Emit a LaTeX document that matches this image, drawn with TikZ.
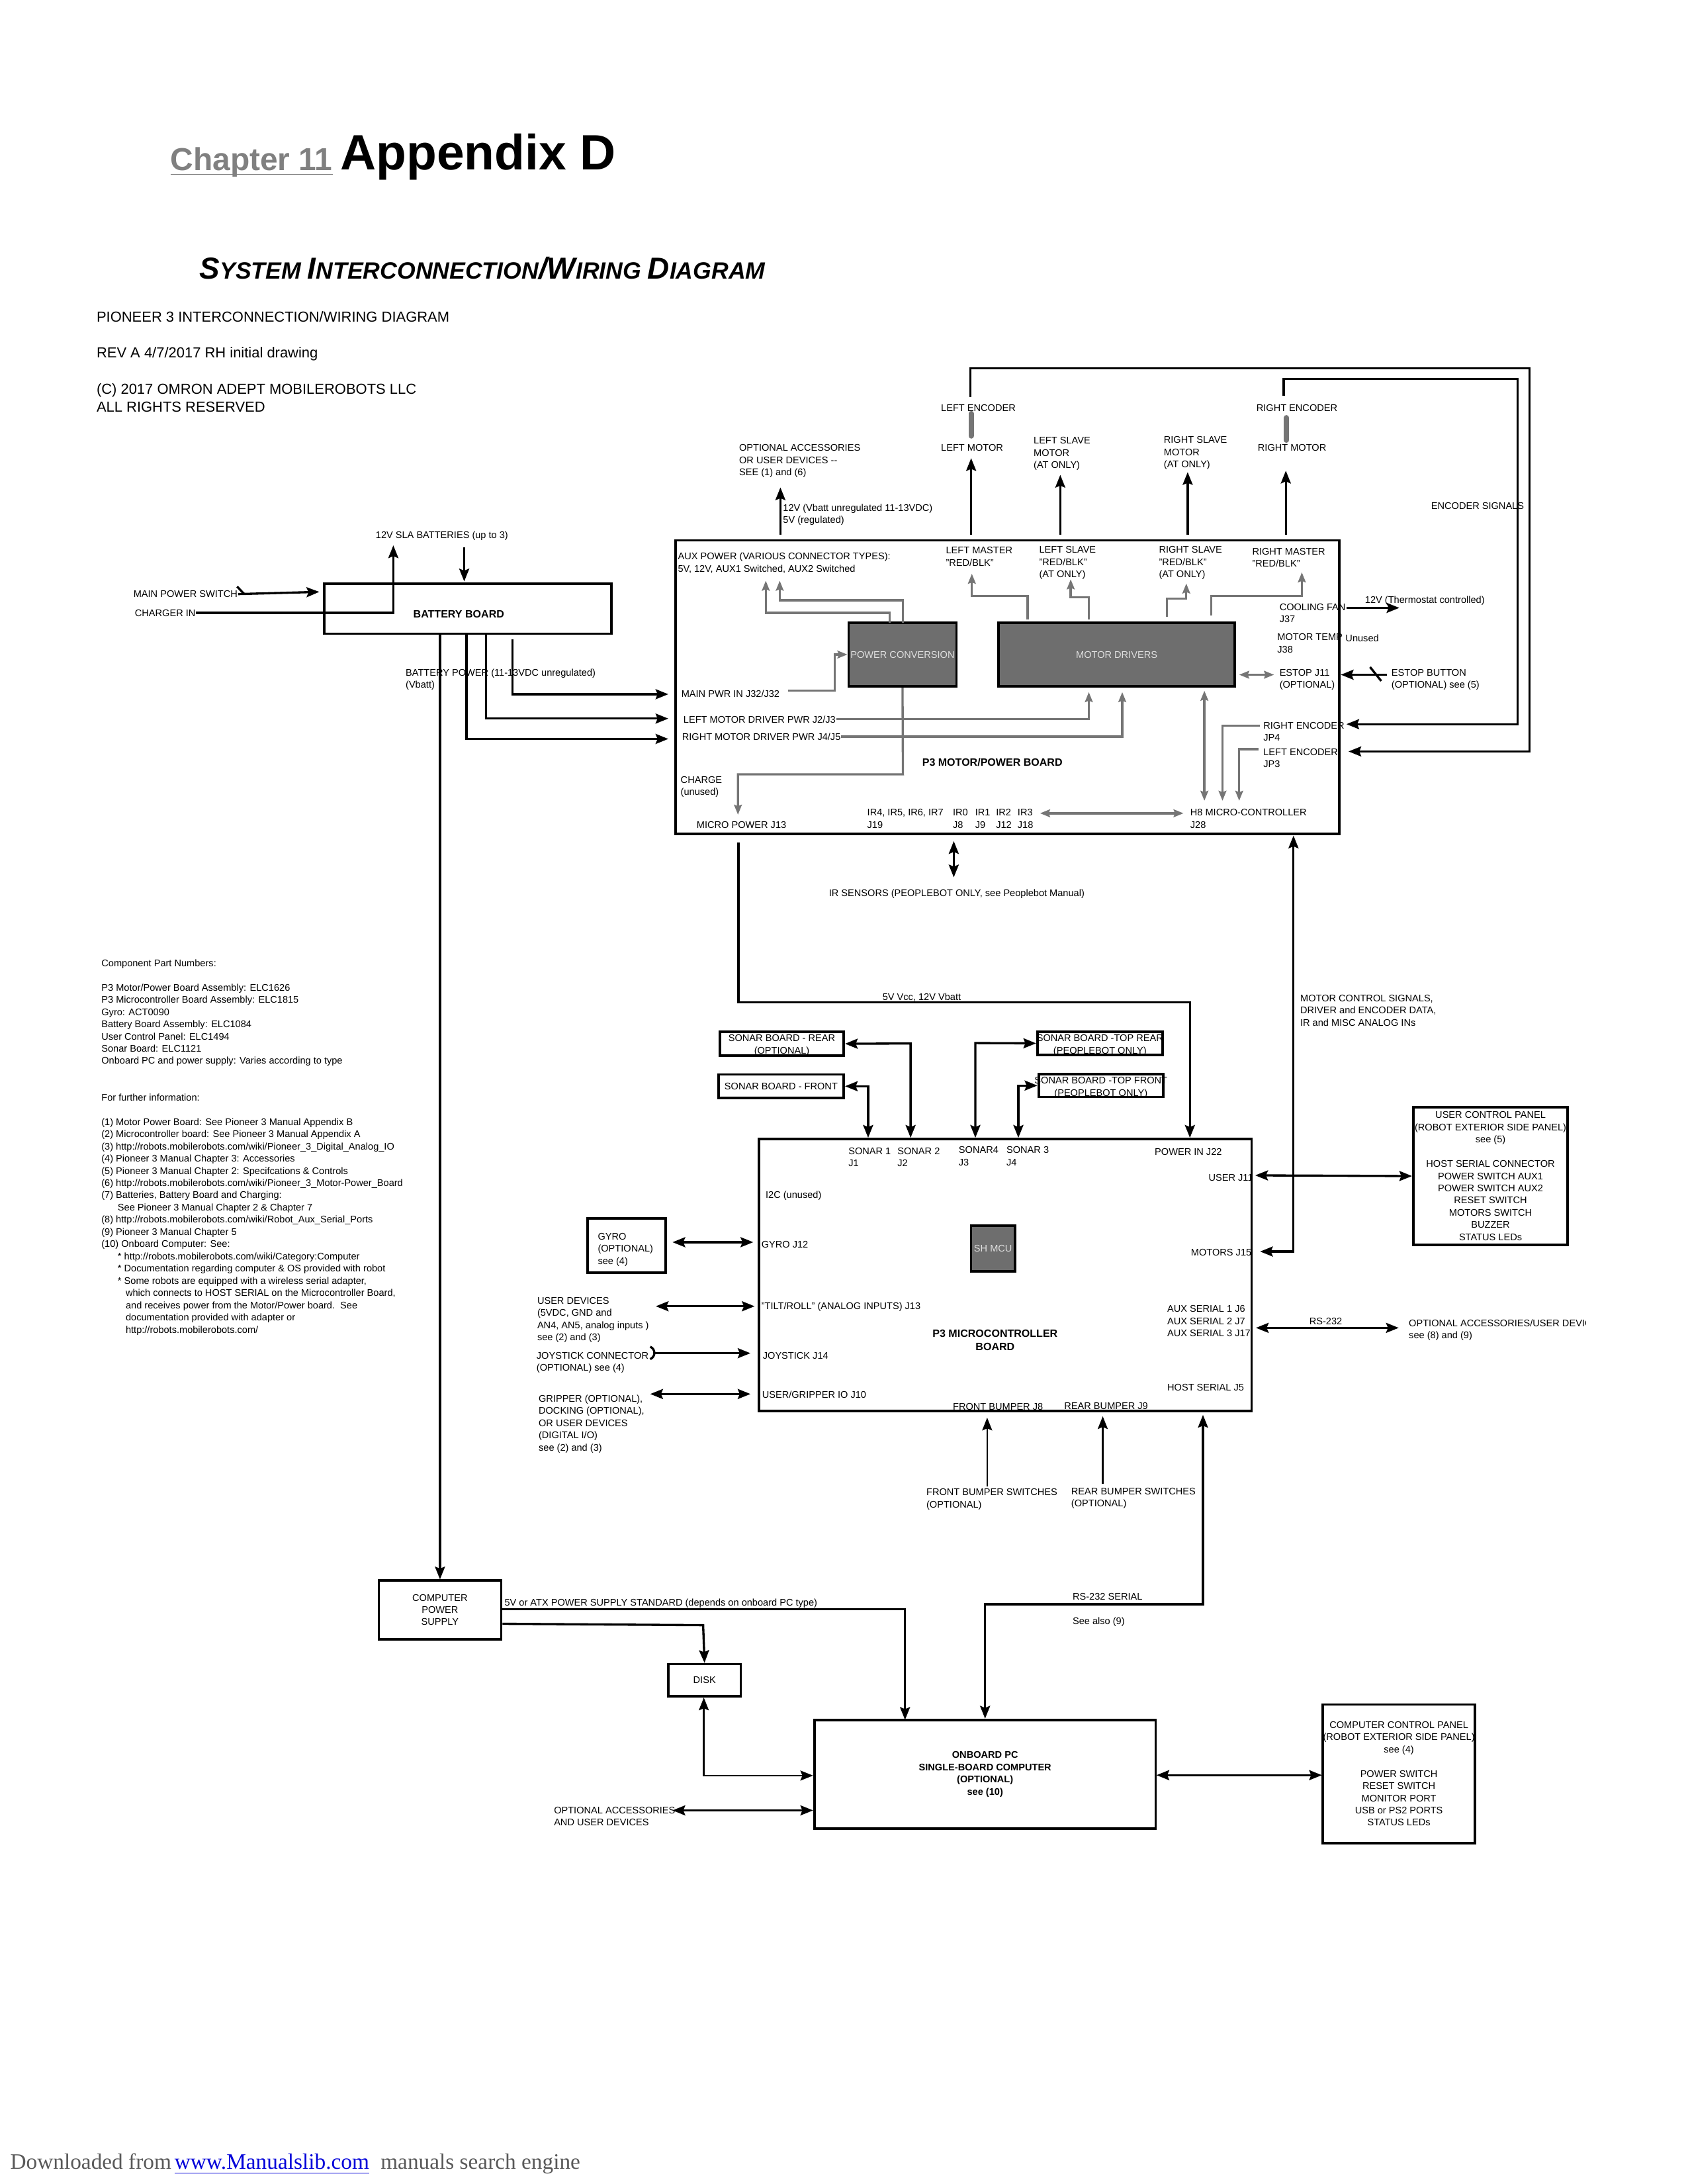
\documentclass[tikz,border=0pt]{standalone}
\usepackage{xcolor}
\usepackage{fontspec}
\usetikzlibrary{arrows.meta}
\setmainfont{Liberation Sans}
\newfontfamily\footerfont{Liberation Serif}
\newcommand{\tinytxt}{\fontsize{3.5bp}{4.43bp}\selectfont}
\newcommand{\boldtxt}{\fontsize{3.85bp}{4.8bp}\selectfont\bfseries}
\newcommand{\headtxt}{\fontsize{5.27bp}{7bp}\selectfont}
\newcommand{\bigS}[1]{{\fontsize{11bp}{12bp}\selectfont #1}}
\definecolor{boxgray}{HTML}{6E6E6E}
\definecolor{wiregray}{HTML}{757575}
\begin{document}
\begin{tikzpicture}[x=0.505bp,y=-0.505bp,>={Stealth[length=4.6bp,width=3.6bp,inset=0.7bp]},
    every node/.style={align=left,inner sep=0pt,font=\tinytxt},
    lbl/.style={anchor=north west,yshift=2.5bp},
    lblb/.style={anchor=base west},
    board/.style={draw,line width=0.9bp,align=center,anchor=center},
    chip/.style={board,fill=boxgray,text=black!12},
    wire/.style={line width=0.8bp},
    thinwire/.style={line width=0.6bp},
    graywire/.style={line width=0.8bp,draw=wiregray,>={Stealth[length=3.6bp,width=2.8bp,inset=0.5bp]}},
    rod/.style={line width=2bp,line cap=round,draw=wiregray}]
      \useasboundingbox (0,0) rectangle (1211.9,1568.3);

      \node[lblb,font=\bfseries\fontsize{11.5bp}{13bp}\selectfont,text=black!50] (chapterNo) at (122,122.5) {\underline{\smash{Chapter 11}}};
      \node[lblb,font=\bfseries\fontsize{18bp}{20bp}\selectfont] (appendixD) at (244,122) {Appendix D};
      \node[lblb,font=\bfseries\itshape\fontsize{8.55bp}{10bp}\selectfont] (sysTitle) at (143,200.5) {\bigS{S}YSTEM \bigS{I}NTERCONNECTION\bigS{/}\bigS{W}IRING \bigS{D}IAGRAM};
      \node[lblb,font=\headtxt] (headA) at (69,231) {PIONEER 3 INTERCONNECTION/WIRING DIAGRAM};
      \node[lblb,font=\headtxt] (headB) at (69,257) {REV A 4/7/2017 RH initial drawing};
      \node[lblb,font=\headtxt] (headC) at (69,283) {(C) 2017 OMRON ADEPT MOBILEROBOTS LLC};
      \node[lblb,font=\headtxt] (headD) at (69,296) {ALL RIGHTS RESERVED};

      \node[board,minimum width=104bp,minimum height=18.2bp] (batt) at (336,437) {};
      \node[font=\boldtxt] (battName) at (329.5,441) {BATTERY BOARD};
      \node[lbl] (slaBatt) at (269.5,386.3) {12V SLA BATTERIES (up to 3)};
      \node[lbl] (mainSwitch) at (95.5,428.7) {MAIN POWER SWITCH};
      \node[lbl] (chargerIn) at (96.5,442.2) {CHARGER IN};
      \node[lbl] (battPower) at (291,485) {BATTERY POWER (11-13VDC unregulated)\\(Vbatt)};

      \node[board,minimum width=240.8bp,minimum height=106.5bp] (motorBoard) at (723.5,493.5) {};
      \node[chip,minimum width=39.1bp,minimum height=23.2bp] (powerConv) at (648.2,470) {POWER CONVERSION};
      \node[chip,minimum width=85.8bp,minimum height=23.2bp] (motorDrv) at (802,470) {MOTOR DRIVERS};
      \node[lbl] (optAcc) at (530.5,323.7) {OPTIONAL ACCESSORIES\\OR USER DEVICES -{}-\\SEE (1) and (6)};
      \node[lbl] (auxVolt) at (562,366.6) {12V (Vbatt unregulated 11-13VDC)\\5V (regulated)};
      \node[lbl] (leftEnc) at (675.5,295) {LEFT ENCODER};
      \node[lbl] (leftMot) at (675.5,323.7) {LEFT MOTOR};
      \node[lbl] (rightEnc) at (902,295) {RIGHT ENCODER};
      \node[lbl] (rightMot) at (903,323.7) {RIGHT MOTOR};
      \node[lbl] (leftSlave) at (742,318.5) {LEFT SLAVE\\MOTOR\\(AT ONLY)};
      \node[lbl] (rightSlave) at (835.5,318) {RIGHT SLAVE\\MOTOR\\(AT ONLY)};
      \node[lbl] (encSig) at (1027.5,365.4) {ENCODER SIGNALS};
      \node[lbl] (auxPower) at (486.5,401.5) {AUX POWER (VARIOUS CONNECTOR TYPES):\\5V, 12V, AUX1 Switched, AUX2 Switched};
      \node[lbl] (leftMaster) at (679,397.4) {LEFT MASTER\\"RED/BLK"};
      \node[lbl] (leftSlaveRb) at (746,397) {LEFT SLAVE\\"RED/BLK"\\(AT ONLY)};
      \node[lbl] (rightSlaveRb) at (832,397) {RIGHT SLAVE\\"RED/BLK"\\(AT ONLY)};
      \node[lbl] (rightMaster) at (899,398) {RIGHT MASTER\\"RED/BLK"};
      \node[lbl] (coolFan) at (918.6,438) {COOLING FAN\\J37};
      \node[lbl] (thermo) at (980,432.6) {12V (Thermostat controlled)};
      \node[lbl] (motorTemp) at (917,459.7) {MOTOR TEMP\\J38};
      \node[lbl] (unusedTemp) at (966,460.5) {Unused};
      \node[lbl] (estop) at (918.6,485) {ESTOP J11\\(OPTIONAL)};
      \node[lbl] (estopBtn) at (999,485) {ESTOP BUTTON\\(OPTIONAL) see (5)};
      \node[lbl] (mainPwr) at (489,500) {MAIN PWR IN J32/J32};
      \node[lbl] (leftDrvPwr) at (490.5,518.5) {LEFT MOTOR DRIVER PWR J2/J3};
      \node[lbl] (rightDrvPwr) at (489.5,531) {RIGHT MOTOR DRIVER PWR J4/J5};
      \node[lbl] (rightEncJp) at (907,523) {RIGHT ENCODER\\JP4};
      \node[lbl] (leftEncJp) at (907,542) {LEFT ENCODER\\JP3};
      \node[lbl,font=\boldtxt] (motorName) at (662,549) {P3 MOTOR/POWER BOARD};
      \node[lbl] (chargeTxt) at (488.5,562) {CHARGE\\(unused)};
      \node[lbl] (microPwr) at (500,594.6) {MICRO POWER J13};
      \node[lbl] (irGroup) at (622.5,585.6) {IR4, IR5, IR6, IR7\\J19};
      \node[lbl] (irZero) at (684,585.6) {IR0\\J8};
      \node[lbl] (irOne) at (700,585.6) {IR1\\J9};
      \node[lbl] (irTwo) at (715,585.6) {IR2\\J12};
      \node[lbl] (irThree) at (730.5,585.6) {IR3\\J18};
      \node[lbl] (hEight) at (854.5,585.6) {H8 MICRO-CONTROLLER\\J28};
      \node[lbl] (irSensors) at (595,643) {IR SENSORS (PEOPLEBOT ONLY, see Peoplebot Manual)};
      \node[lbl] (motorSig) at (933.5,719) {MOTOR CONTROL SIGNALS,\\DRIVER and ENCODER DATA,\\IR and MISC ANALOG INs};
      \node[lbl] (vccTxt) at (633.5,718) {5V Vcc, 12V Vbatt};

      \node[lbl] (partList) at (72.5,693.5) {Component Part Numbers:\\[4.43bp]
        P3 Motor/Power Board Assembly: ELC1626\\
        P3 Microcontroller Board Assembly: ELC1815\\
        Gyro: ACT0090\\
        Battery Board Assembly: ELC1084\\
        User Control Panel: ELC1494\\
        Sonar Board: ELC1121\\
        Onboard PC and power supply: Varies according to type\\[8.86bp]
        For further information:\\[4.43bp]
        (1) Motor Power Board: See Pioneer 3 Manual Appendix B\\
        (2) Microcontroller board: See Pioneer 3 Manual Appendix A\\
        (3) http://robots.mobilerobots.com/wiki/Pioneer\_3\_Digital\_Analog\_IO\\
        (4) Pioneer 3 Manual Chapter 3: Accessories\\
        (5) Pioneer 3 Manual Chapter 2: Specifcations \& Controls\\
        (6) http://robots.mobilerobots.com/wiki/Pioneer\_3\_Motor-Power\_Board\\
        (7) Batteries, Battery Board and Charging:\\
        \hspace*{5.9bp}See Pioneer 3 Manual Chapter 2 \& Chapter 7\\
        (8) http://robots.mobilerobots.com/wiki/Robot\_Aux\_Serial\_Ports\\
        (9) Pioneer 3 Manual Chapter 5\\
        (10) Onboard Computer: See:\\
        \hspace*{5.9bp}* http://robots.mobilerobots.com/wiki/Category:Computer\\
        \hspace*{5.9bp}* Documentation regarding computer \& OS provided with robot\\
        \hspace*{5.9bp}* Some robots are equipped with a wireless serial adapter,\\
        \hspace*{8.8bp}which connects to HOST SERIAL on the Microcontroller Board,\\
        \hspace*{8.8bp}and receives power from the Motor/Power board.\ \ See\\
        \hspace*{8.8bp}documentation provided with adapter or\\
        \hspace*{8.8bp}http://robots.mobilerobots.com/};

      \node[board,minimum width=44.9bp,minimum height=8.6bp] (sonarRear) at (561.5,749.5) {};
      \node[align=center] (sonarRearTxt) at (561.5,750.5) {SONAR BOARD - REAR\\(OPTIONAL)};
      \node[board,minimum width=45.4bp,minimum height=8.6bp] (sonarFront) at (561,780) {SONAR BOARD - FRONT};
      \node[board,minimum width=45.4bp,minimum height=8.3bp] (sonarTopRear) at (790,749.2) {};
      \node[align=center] (topRearTxt) at (790,750.5) {SONAR BOARD -TOP REAR\\(PEOPLEBOT ONLY)};
      \node[board,minimum width=45.2bp,minimum height=8.3bp] (sonarTopFront) at (790.7,779.5) {};
      \node[align=center] (topFrontTxt) at (790.7,781) {SONAR BOARD -TOP FRONT\\(PEOPLEBOT ONLY)};

      \node[board,minimum width=178.7bp,minimum height=98.5bp] (microBoard) at (722,915.5) {};
      \node[chip,minimum width=15.9bp,minimum height=16.7bp] (shMcu) at (713.2,896.5) {SH MCU};
      \node[lbl] (sonarOne) at (609,828.6) {SONAR 1\\J1};
      \node[lbl] (sonarTwo) at (644.2,828.6) {SONAR 2\\J2};
      \node[lbl] (sonarFour) at (688.2,828) {SONAR4\\J3};
      \node[lbl] (sonarThree) at (722.5,828) {SONAR 3\\J4};
      \node[lbl] (powerIn) at (829,829.4) {POWER IN J22};
      \node[lbl] (userJ) at (867.7,848) {USER J11};
      \node[lbl] (motorsJ) at (855,901.5) {MOTORS J15};
      \node[lbl] (iTwoC) at (549.5,859.8) {I2C (unused)};
      \node[lbl] (gyroJ) at (546.5,895.6) {GYRO J12};
      \node[lbl] (tiltJ) at (546.5,939.8) {"TILT/ROLL" (ANALOG INPUTS) J13};
      \node[lbl] (joyJ) at (547.5,975.6) {JOYSTICK J14};
      \node[lbl] (gripJ) at (547,1003.7) {USER/GRIPPER IO J10};
      \node[align=center,font=\boldtxt] (microName) at (714.7,962.5) {P3 MICROCONTROLLER\\BOARD};
      \node[lbl] (auxSerial) at (838,942) {AUX SERIAL 1 J6\\AUX SERIAL 2 J7\\AUX SERIAL 3 J17};
      \node[lbl] (hostSerial) at (838,998.2) {HOST SERIAL J5};
      \node[lbl] (frontBump) at (684,1012.4) {FRONT BUMPER J8};
      \node[lbl] (rearBump) at (764,1011.5) {REAR BUMPER J9};

      \node[board,minimum width=28.3bp,minimum height=19.7bp] (gyro) at (450,894.5) {};
      \node[lbl] (gyroTxt) at (429,890) {GYRO\\(OPTIONAL)\\see (4)};
      \node[lbl] (userDev) at (385.5,936) {USER DEVICES\\(5VDC, GND and\\AN4, AN5, analog inputs )\\see (2) and (3)};
      \node[lbl] (joyConn) at (385,975.6) {JOYSTICK CONNECTOR\\(OPTIONAL) see (4)};
      \node[lbl] (gripTxt) at (386.5,1006.3) {GRIPPER (OPTIONAL),\\DOCKING (OPTIONAL),\\OR USER DEVICES\\(DIGITAL I/O)\\see (2) and (3)};
      \node[board,minimum width=56bp,minimum height=50bp] (userPanel) at (1070.5,844.5) {USER CONTROL PANEL\\(ROBOT EXTERIOR SIDE PANEL)\\see (5)\\[4.43bp]HOST SERIAL CONNECTOR\\POWER SWITCH AUX1\\POWER SWITCH AUX2\\RESET SWITCH\\MOTORS SWITCH\\BUZZER\\STATUS LEDs};
      \node[lbl] (rsTxt) at (940,951) {RS-232};
      \begin{scope}
        \clip (1000,940) rectangle (1139,970);
        \node[lbl] (optDev) at (1011.5,952) {OPTIONAL ACCESSORIES/USER DEVIC\\see (8) and (9)};
      \end{scope}
      \node[lbl] (frontSw) at (665,1073.7) {FRONT BUMPER SWITCHES\\(OPTIONAL)};
      \node[lbl] (rearSw) at (769,1072.9) {REAR BUMPER SWITCHES\\(OPTIONAL)};
      \node[lbl] (rsSerial) at (770,1148.7) {RS-232 SERIAL};
      \node[lbl] (seeAlso) at (770,1166) {See also (9)};

      \node[board,minimum width=44.4bp,minimum height=21.2bp] (compPower) at (316,1156) {COMPUTER\\POWER\\SUPPLY};
      \node[lbl] (atxTxt) at (362,1152.7) {5V or ATX POWER SUPPLY STANDARD (depends on onboard PC type)};
      \node[board,minimum width=26.3bp,minimum height=11.6bp] (disk) at (506,1206.5) {DISK};
      \node[board,minimum width=123.7bp,minimum height=39.4bp,font=\bfseries\tinytxt] (onboardPc) at (707.5,1274) {ONBOARD PC\\SINGLE-BOARD COMPUTER\\(OPTIONAL)\\see (10)};
      \node[board,minimum width=55.3bp,minimum height=50.2bp] (compPanel) at (1004.7,1273.7) {COMPUTER CONTROL PANEL\\(ROBOT EXTERIOR SIDE PANEL)\\see (4)\\[4.43bp]POWER SWITCH\\RESET SWITCH\\MONITOR PORT\\USB or PS2 PORTS\\STATUS LEDs};
      \node[lbl] (optUser) at (397.5,1302) {OPTIONAL ACCESSORIES\\AND USER DEVICES};

      \node[lblb,font=\footerfont\fontsize{8bp}{9bp}\selectfont,text=black!65] (footA) at (7,1557.5) {Downloaded from};
      \node[lblb,font=\footerfont\fontsize{8bp}{9bp}\selectfont,text=blue!85!black] (footB) at (125,1557.5) {\underline{www.Manualslib.com}};
      \node[lblb,font=\footerfont\fontsize{8bp}{9bp}\selectfont,text=black!65] (footC) at (273,1557.5) {manuals search engine};

      \path (282.5,391.6) coordinate (slaTip) (333.4,393) coordinate (slaTop) (333.4,417.5) coordinate (slaEnd)
        (229.3,425) coordinate (mainTip) (170.3,421.2) coordinate (tickA) (175.4,426.6) coordinate (tickB)
        (335,455) coordinate (battR) (349,455) coordinate (battL) (368,459) coordinate (battM)
        (480,530.6) coordinate (rightTip) (480,516) coordinate (leftTip) (480,498.5) coordinate (mainPwrTip);
      \draw[wire,->] (chargerIn.east) -| (slaTip);
      \draw[wire,->] (mainSwitch.east) -- (mainTip);
      \draw[wire] (tickA) -- (tickB);
      \draw[wire,->] (slaTop) -- (slaEnd);
      \draw[wire,->] (battR) |- (rightTip);
      \draw[wire,->] (battL) |- (leftTip);
      \draw[wire,->] (battM) |- (mainPwrTip);
      \draw[wire,->] (compPower.north |- batt.south) -- (compPower.north);

      \path (560.5,384) coordinate (auxOutA) (560.5,350) coordinate (auxOutB)
        (697.5,384) coordinate (lmA) (697.5,329) coordinate (lmB)
        (761.5,384) coordinate (lsA) (761.5,341) coordinate (lsB)
        (853,384) coordinate (rsA) (853,339) coordinate (rsB)
        (923.5,384) coordinate (rmA) (923.5,338) coordinate (rmB)
        (697.5,297) coordinate (rodLA) (697.5,313) coordinate (rodLB)
        (924,300) coordinate (rodRA) (924,316) coordinate (rodRB)
        (697,285) coordinate (encLA) (697,264.6) coordinate (encLB) (1098.5,539.6) coordinate (encLC) (968.5,539.6) coordinate (encLD)
        (922,284) coordinate (encRA) (922,272) coordinate (encRB) (1090,520) coordinate (encRC) (967,520) coordinate (encRD);
      \draw[wire,->] (auxOutA) -- (auxOutB);
      \draw[wire,->] (lmA) -- (lmB);
      \draw[wire,->] (lsA) -- (lsB);
      \draw[wire,->] (rsA) -- (rsB);
      \draw[wire,->] (rmA) -- (rmB);
      \draw[rod] (rodLA) -- (rodLB);
      \draw[rod] (rodRA) -- (rodRB);
      \draw[wire,->] (encLA) -- (encLB) -| (encLC) -- (encLD);
      \draw[wire,->] (encRA) -- (encRB) -| (encRC) -- (encRD);

      \path (639,447) coordinate (auxGA) (639,440) coordinate (auxGB) (550,417) coordinate (auxGC)
        (648.5,447) coordinate (auxHA) (648.5,431) coordinate (auxHB) (560,417) coordinate (auxHC)
        (738,445) coordinate (lmGA) (738,428) coordinate (lmGB) (698,412) coordinate (lmGC)
        (782,445) coordinate (lsGA) (782,429) coordinate (lsGB) (769,416) coordinate (lsGC)
        (838,443) coordinate (rsGA) (838,430) coordinate (rsGB) (852,419) coordinate (rsGC)
        (870,442) coordinate (rmGA) (870,428) coordinate (rmGB) (935,411) coordinate (rmGC)
        (566,496) coordinate (mainGA) (599.4,470) coordinate (mainGB)
        (782,497) coordinate (ldGA) (806,497) coordinate (rdGA)
        (648.5,556) coordinate (chGA) (530,585) coordinate (chGB)
        (865,496) coordinate (hvA) (865,575) coordinate (hvB)
        (905,521) coordinate (reStart) (904,538) coordinate (leStart)
        (878,575) coordinate (reTip) (890,575) coordinate (leTip)
        (747,584) coordinate (irTip) (850,584) coordinate (hTip)
        (890,484.5) coordinate (estA) (915,484.5) coordinate (estB);
      \draw[graywire,->] (auxGA) -- (auxGB) -| (auxGC);
      \draw[graywire,->] (auxHA) -- (auxHB) -| (auxHC);
      \draw[graywire,->] (lmGA) -- (lmGB) -| (lmGC);
      \draw[graywire,->] (lsGA) -- (lsGB) -| (lsGC);
      \draw[graywire,->] (rsGA) -- (rsGB) -| (rsGC);
      \draw[graywire,->] (rmGA) -- (rmGB) -| (rmGC);
      \draw[graywire,->] (mainGA) -| (mainGB) -- (powerConv.west);
      \draw[graywire,->] (leftDrvPwr.east) -| (ldGA);
      \draw[graywire,->] (rightDrvPwr.east) -| (rdGA);
      \draw[graywire,->] (powerConv.south) -- (chGA) -| (chGB);
      \draw[graywire,<->] (hvA) -- (hvB);
      \draw[graywire,->] (reStart) -| (reTip);
      \draw[graywire,->] (leStart) -| (leTip);
      \draw[graywire,<->] (irTip) -- (hTip);
      \draw[graywire,<->] (estA) -- (estB);

      \path (967,436.5) coordinate (fanA) (1005,436.5) coordinate (fanB)
        (996,484.5) coordinate (btnA) (963,484.5) coordinate (btnB) (984,479) coordinate (btnTA) (992,489) coordinate (btnTB)
        (530.4,605) coordinate (vccA) (530.4,719.6) coordinate (vccB) (854.6,817) coordinate (vccC)
        (685,604) coordinate (irsA) (685,630) coordinate (irsB)
        (929,600) coordinate (motA) (929,898.7) coordinate (motB) (905,898.7) coordinate (motC);
      \draw[wire,->] (fanA) -- (fanB);
      \draw[wire,->] (btnA) -- (btnB);
      \draw[wire] (btnTA) -- (btnTB);
      \draw[wire,->] (vccA) -- (vccB) -| (vccC);
      \draw[wire,<->] (irsA) -- (irsB);
      \draw[wire,<->] (motA) -- (motB) -- (motC);

      \path (654,817) coordinate (sTwoA) (654,749.3) coordinate (sTwoB)
        (623.5,817) coordinate (sOneA) (623.5,780) coordinate (sOneB)
        (700.5,817) coordinate (sFourA) (700.5,749) coordinate (sFourB)
        (731.4,817) coordinate (sThreeA) (731.4,779.5) coordinate (sThreeB);
      \draw[wire,<->] (sTwoA) -- (sTwoB) -- (sonarRear.east);
      \draw[wire,<->] (sOneA) -- (sOneB) -- (sonarFront.east);
      \draw[wire,<->] (sFourA) -- (sFourB) -- (sonarTopRear.west);
      \draw[wire,<->] (sThreeA) -- (sThreeB) -- (sonarTopFront.west);

      \path (483,892) coordinate (gyA) (541,892) coordinate (gyB)
        (471,938) coordinate (tlA) (542,938) coordinate (tlB)
        (470,971.7) coordinate (jyA) (539,971.7) coordinate (jyB) (467,967) coordinate (jyC) (467,976) coordinate (jyD)
        (467,1001) coordinate (grA) (539,1001) coordinate (grB)
        (901.5,844) coordinate (usA) (902,953.5) coordinate (rsIn) (1004.6,953.5) coordinate (rsOut);
      \draw[wire,<->] (gyA) -- (gyB);
      \draw[wire,<->] (tlA) -- (tlB);
      \draw[wire,->] (jyA) -- (jyB);
      \draw[wire] (jyC) .. controls (471,969) and (471,974) .. (jyD);
      \draw[wire,<->] (grA) -- (grB);
      \draw[wire,<->] (usA) -- (userPanel.west);
      \draw[wire,<->] (rsIn) -- (rsOut);

      \path (709,1067.4) coordinate (fbA) (709,1018) coordinate (fbB)
        (792,1065.3) coordinate (rbA) (792,1017) coordinate (rbB)
        (864,1016) coordinate (hsA) (864,1152) coordinate (hsB) (707.5,1152) coordinate (hsC)
        (650,1235) coordinate (atxTip) (505,1167) coordinate (dkA)
        (505.5,1219) coordinate (dkB) (505.5,1275) coordinate (dkC) (584,1275) coordinate (dkD)
        (483,1300) coordinate (opA) (584,1300) coordinate (opB)
        (830.6,1274.7) coordinate (ccA) (949.4,1274.7) coordinate (ccB);
      \draw[thinwire,->] (fbA) -- (fbB);
      \draw[thinwire,->] (rbA) -- (rbB);
      \draw[wire,<->] (hsA) -- (hsB) -- (hsC) -- (onboardPc.north);
      \draw[wire,->] (compPower.east) ++(0,-0.5) -| (atxTip);
      \draw[wire,->] (compPower.east) ++(0,10) -- (dkA) -- (disk.north);
      \draw[thinwire,<->] (dkB) -- (dkC) -- (dkD);
      \draw[wire,<->] (opA) -- (opB);
      \draw[wire,<->] (ccA) -- (ccB);
\end{tikzpicture}
\end{document}
